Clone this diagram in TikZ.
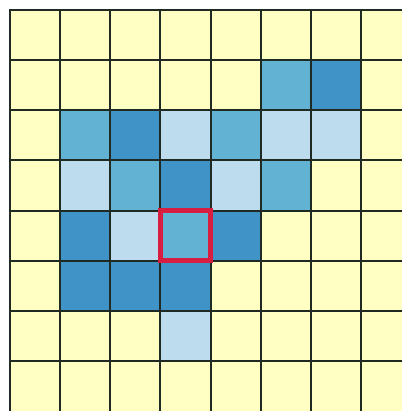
\documentclass[tikz,border=0pt]{standalone}
\definecolor{cellY}{HTML}{FFFFC4}
\definecolor{cellL}{HTML}{BDDCEE}
\definecolor{cellM}{HTML}{62B2D4}
\definecolor{cellD}{HTML}{3F93C7}
\definecolor{gridC}{HTML}{1E2A22}
\definecolor{hiRed}{HTML}{D81E40}
\tikzset{gridline/.style={draw=gridC,line width=2pt},
  hibox/.style={draw=hiRed,line width=5pt}}
\begin{document}
\begin{tikzpicture}[x=1pt,y=-1pt]
\useasboundingbox (0,0) rectangle (402,411);
\fill[white] (0,0) rectangle (402,411);
\fill[cellY] (10,10) rectangle (402,411);
% cells: col/row (1-based) / colour
\foreach \c/\r/\k in {6/2/cellM,7/2/cellD,
  2/3/cellM,3/3/cellD,4/3/cellL,5/3/cellM,6/3/cellL,7/3/cellL,
  2/4/cellL,3/4/cellM,4/4/cellD,5/4/cellL,6/4/cellM,
  2/5/cellD,3/5/cellL,4/5/cellM,5/5/cellD,
  2/6/cellD,3/6/cellD,4/6/cellD,
  4/7/cellL}
  \fill[\k] ({10+50.15*(\c-1)},{10+50.15*(\r-1)}) rectangle ({10+50.15*\c},{10+50.15*\r});
\foreach \i in {0,...,7} {
  \draw[gridline] ({10+50.15*\i},9) -- ({10+50.15*\i},411);
  \draw[gridline] (9,{10+50.15*\i}) -- (402,{10+50.15*\i});
}
\draw[hibox] (160.5,210.5) rectangle (210.5,260.5);
\end{tikzpicture}
\end{document}
